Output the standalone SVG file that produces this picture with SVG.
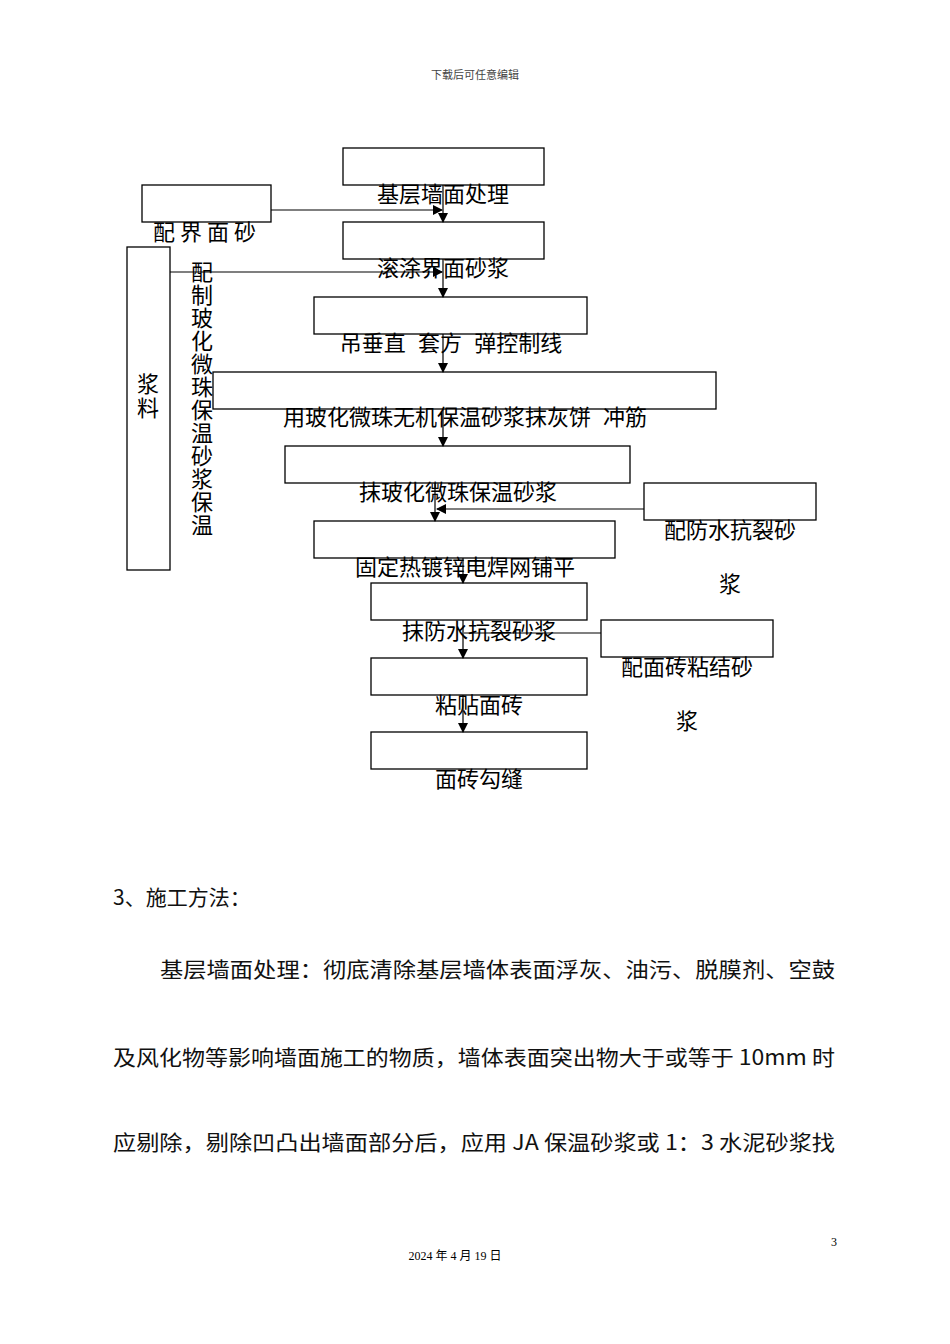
<svg xmlns="http://www.w3.org/2000/svg" width="950" height="1344" viewBox="0 0 950 1344">
<style>
.b{fill:#fff;stroke:#000;stroke-width:1.3}
.t{font-family:"Liberation Sans","Noto Sans CJK SC",sans-serif;font-size:22px;fill:#000}
.m{text-anchor:middle}
.c{stroke:#000;stroke-width:1.2;fill:none}
.p{font-family:"Noto Sans CJK SC",sans-serif;font-size:21px;fill:#111}
</style>
<defs><marker id="a" markerWidth="10" markerHeight="10" refX="9" refY="5" orient="auto" markerUnits="userSpaceOnUse"><path d="M0,0L10,5L0,10Z" fill="#000"/></marker></defs>
<rect width="950" height="1344" fill="#fff"/>
<text x="475" y="79" class="m" style="font-family:'Noto Sans CJK SC',sans-serif;font-size:11px;fill:#444">下载后可任意编辑</text>
<g id="n1"><rect class="b" x="343" y="148" width="201" height="37"/><text class="t m" x="443" y="202">基层墙面处理</text></g>
<g id="n2"><rect class="b" x="343" y="222" width="201" height="37"/><text class="t m" x="443" y="276">滚涂界面砂浆</text></g>
<g id="n3"><rect class="b" x="314" y="297" width="273" height="37"/><text class="t m" x="451" y="351" xml:space="preserve">吊垂直  套方  弹控制线</text></g>
<g id="n4"><rect class="b" x="213" y="372" width="503" height="37"/><text class="t m" x="465" y="425" xml:space="preserve">用玻化微珠无机保温砂浆抹灰饼  冲筋</text></g>
<g id="n5"><rect class="b" x="285" y="446" width="345" height="37"/><text class="t m" x="458" y="500">抹玻化微珠保温砂浆</text></g>
<g id="n6"><rect class="b" x="314" y="521" width="301" height="37"/><text class="t m" x="465" y="575">固定热镀锌电焊网铺平</text></g>
<g id="n7"><rect class="b" x="371" y="583" width="216" height="37"/><text class="t m" x="479" y="639">抹防水抗裂砂浆</text></g>
<g id="n8"><rect class="b" x="371" y="658" width="216" height="37"/><text class="t m" x="479" y="713">粘贴面砖</text></g>
<g id="n9"><rect class="b" x="371" y="732" width="216" height="37"/><text class="t m" x="479" y="787">面砖勾缝</text></g>
<g id="l1"><rect class="b" x="142" y="185" width="129" height="37"/><text class="t" x="153" y="240" letter-spacing="5">配界面砂</text></g>
<g id="l2"><rect class="b" x="127" y="247" width="43" height="323"/><text class="t m" x="148" y="392">浆</text><text class="t m" x="148" y="416">料</text></g>
<g id="l2t"><text class="t m" x="202" y="280">配</text><text class="t m" x="202" y="303">制</text><text class="t m" x="202" y="326">玻</text><text class="t m" x="202" y="349">化</text><text class="t m" x="202" y="372">微</text><text class="t m" x="202" y="395">珠</text><text class="t m" x="202" y="418">保</text><text class="t m" x="202" y="441">温</text><text class="t m" x="202" y="464">砂</text><text class="t m" x="202" y="487">浆</text><text class="t m" x="202" y="510">保</text><text class="t m" x="202" y="533">温</text></g>
<g id="r1"><rect class="b" x="644" y="483" width="172" height="37"/><text class="t m" x="730" y="538">配防水抗裂砂</text><text class="t m" x="730" y="592">浆</text></g>
<g id="r2"><rect class="b" x="601" y="620" width="172" height="37"/><text class="t m" x="687" y="675">配面砖粘结砂</text><text class="t m" x="687" y="729">浆</text></g>
<g id="connectors">
<line class="c" x1="443" y1="185" x2="443" y2="222" marker-end="url(#a)"/>
<line class="c" x1="271" y1="210" x2="442" y2="210" marker-end="url(#a)"/>
<line class="c" x1="443" y1="259" x2="443" y2="297" marker-end="url(#a)"/>
<line class="c" x1="170" y1="272" x2="442" y2="272" marker-end="url(#a)"/>
<line class="c" x1="443" y1="334" x2="443" y2="372" marker-end="url(#a)"/>
<line class="c" x1="443" y1="409" x2="443" y2="446" marker-end="url(#a)"/>
<line class="c" x1="435" y1="483" x2="435" y2="521" marker-end="url(#a)"/>
<line class="c" x1="644" y1="509" x2="437" y2="509" marker-end="url(#a)"/>
<line class="c" x1="463" y1="558" x2="463" y2="583" marker-end="url(#a)"/>
<line class="c" x1="601" y1="633" x2="464" y2="633"/>
<line class="c" x1="463" y1="620" x2="463" y2="658" marker-end="url(#a)"/>
<line class="c" x1="463" y1="695" x2="463" y2="732" marker-end="url(#a)"/>
</g>
<text class="p" x="113" y="905" font-size="22">3、施工方法：</text>
<text class="p" x="160" y="977" textLength="675" lengthAdjust="spacingAndGlyphs">基层墙面处理：彻底清除基层墙体表面浮灰、油污、脱膜剂、空鼓</text>
<text class="p" x="113" y="1065" textLength="722" lengthAdjust="spacingAndGlyphs">及风化物等影响墙面施工的物质，墙体表面突出物大于或等于 10mm 时</text>
<text class="p" x="113" y="1150" textLength="722" lengthAdjust="spacingAndGlyphs">应剔除，剔除凹凸出墙面部分后，应用 JA 保温砂浆或 1：3 水泥砂浆找</text>
<text x="831" y="1246" style="font-family:'Liberation Serif',serif;font-size:12px">3</text>
<text x="455" y="1260" class="m" style="font-family:'Liberation Serif','Noto Sans CJK SC',serif;font-size:12px">2024 年 4 月 19 日</text>
</svg>
